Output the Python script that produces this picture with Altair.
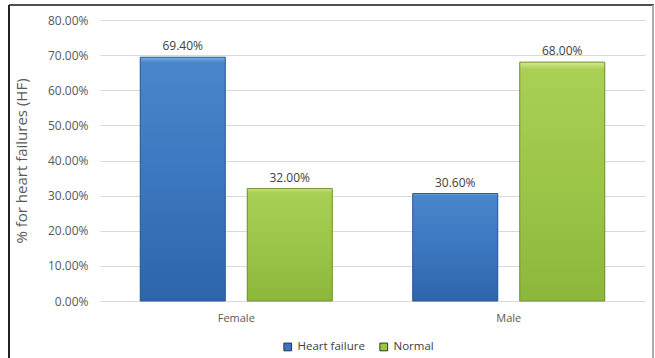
import altair as alt
import pandas as pd

genders = ["Female", "Female", "Male", "Male"]
series = ["Heart failure", "Normal", "Heart failure", "Normal"]
values = [0.694, 0.32, 0.306, 0.68]
y_ticks = [0, 0.1, 0.2, 0.3, 0.4, 0.5, 0.6, 0.7, 0.8]

df = pd.DataFrame({"gender": genders, "series": series, "value": values})

W, H = 545, 281
series_order = ["Heart failure", "Normal"]

x_enc = alt.X("gender:N", sort=["Female", "Male"],
              scale=alt.Scale(paddingInner=0, paddingOuter=0),
              axis=alt.Axis(title=None, labelAngle=0, ticks=False, domain=False,
                            labelFontSize=11, labelColor="#595959",
                            labelFont="Open Sans", labelPadding=11))
xo_enc = alt.XOffset("series:N", sort=series_order,
                     scale=alt.Scale(paddingInner=0.2056, paddingOuter=0.376))
y_enc = alt.Y("value:Q", scale=alt.Scale(domain=[0, 0.8], nice=False),
              axis=alt.Axis(values=y_ticks, format=".2%", title="% for heart failures (HF)",
                            titleFontSize=15, titleFontWeight="normal", titleColor="#595959",
                            titleFont="Open Sans", titlePadding=18,
                            labelFont="Open Sans", labelFontSize=12, labelColor="#595959",
                            labelPadding=12, ticks=False, domain=False,
                            gridColor="#d9d9d9", gridWidth=1.2))

base = alt.Chart(df)

legend_layer = base.mark_bar().encode(
    x=x_enc, xOffset=xo_enc, y=y_enc,
    color=alt.Color("series:N", sort=series_order,
                    scale=alt.Scale(domain=series_order, range=["#3a76c0", "#9bc545"]),
                    legend=alt.Legend(title=None, orient="none", direction="horizontal",
                                      legendX=182, legendY=321, symbolType="square",
                                      symbolSize=60, symbolStrokeWidth=1,
                                      labelFont="Open Sans", labelFontSize=11.5,
                                      labelColor="#404040", columnPadding=12,
                                      symbolStrokeColor="#333333")),
)

blue_grad = alt.LinearGradient(gradient="linear", x1=0, x2=0, y1=0, y2=1, stops=[
    alt.GradientStop(color="#7fb0e6", offset=0),
    alt.GradientStop(color="#4a86cb", offset=0.02),
    alt.GradientStop(color="#3b77c0", offset=0.5),
    alt.GradientStop(color="#2d65ab", offset=1),
])
green_grad = alt.LinearGradient(gradient="linear", x1=0, x2=0, y1=0, y2=1, stops=[
    alt.GradientStop(color="#d6ec8e", offset=0),
    alt.GradientStop(color="#a9cf55", offset=0.03),
    alt.GradientStop(color="#9cc648", offset=0.5),
    alt.GradientStop(color="#8db73b", offset=1),
])

blue_layer = base.transform_filter(alt.datum.series == "Heart failure").mark_bar(
    color=blue_grad, stroke="#2a5a96", strokeWidth=1).encode(x=x_enc, xOffset=xo_enc, y=y_enc)
green_layer = base.transform_filter(alt.datum.series == "Normal").mark_bar(
    color=green_grad, stroke="#6f9230", strokeWidth=1).encode(x=x_enc, xOffset=xo_enc, y=y_enc)

labels = base.mark_text(dy=-11, fontSize=12, color="#404040", font="Open Sans").encode(
    x=x_enc, xOffset=xo_enc, y=y_enc, text=alt.Text("value:Q", format=".2%"))

left_border = base.mark_rule(color="#222222", strokeWidth=1.5).encode(
    x=alt.value(-91), y=alt.value(-15), y2=alt.value(H + 60))
top_border = base.mark_rule(color="#444444", strokeWidth=1.2).encode(
    x=alt.value(-91), x2=alt.value(W + 9), y=alt.value(-15))
right_border = base.mark_rule(color="#aaaaaa", strokeWidth=1.2).encode(
    x=alt.value(W + 8), y=alt.value(-15), y2=alt.value(H + 60))

chart = alt.layer(legend_layer, blue_layer, green_layer, labels,
                  left_border, top_border, right_border).properties(
    width=W, height=H,
    autosize=alt.AutoSizeParams(type="none"),
    padding={"left": 100, "top": 20, "right": 10, "bottom": 57},
    background="white",
).configure_view(stroke=None)

chart.save("out.html", embed_options={"renderer": "svg", "actions": False})
